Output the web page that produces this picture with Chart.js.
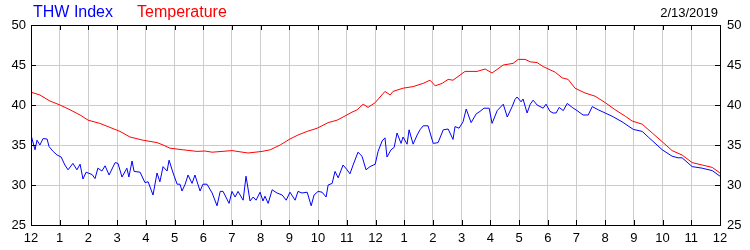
<!DOCTYPE html>
<html>
<head>
<meta charset="utf-8">
<script src="https://cdn.jsdelivr.net/npm/chart.js@4/dist/chart.umd.min.js"></script>
<style>
  html, body { margin: 0; padding: 0; background: #fff; }
  #wrap { position: relative; width: 750px; height: 250px; }
  .lbl { position: absolute; font-family: "Liberation Sans", Arial, sans-serif; white-space: nowrap; }
</style>
</head>
<body>
<div id="wrap">
  <canvas id="grafico" width="750" height="250"></canvas>
  <span class="lbl" style="left:33px; top:3px; font-size:16px; color:#0000ff;">THW Index</span>
  <span class="lbl" style="left:137px; top:3px; font-size:16px; color:#ff0000;">Temperature</span>
  <span class="lbl" style="right:32px; top:5px; font-size:13px; color:#000;">2/13/2019</span>
</div>
<script>
// Horas do dia (0 = meia-noite, 24 = meia-noite seguinte)
const horaTicks = [0, 1, 2, 3, 4, 5, 6, 7, 8, 9, 10, 11, 12, 13, 14, 15, 16, 17, 18, 19, 20, 21, 22, 23, 24];
const tempTicks = [25, 30, 35, 40, 45, 50];

// Temperature (vermelho)
const tempHoras = [0, 0.31, 0.66, 1.01, 1.36, 1.71, 1.99, 2.40, 2.75, 3.10, 3.45, 3.90, 4.39, 4.60, 4.84, 5.30, 5.78, 6.06, 6.31, 7.00,
  7.56, 8.05, 8.33, 8.68, 9.02, 9.30, 9.62, 9.97, 10.35, 10.66, 10.87, 11.18, 11.36, 11.57, 11.74, 11.99, 12.33, 12.51, 12.61, 12.96,
  13.31, 13.66, 13.90, 14.08, 14.32, 14.53, 14.70, 15.12, 15.54, 15.82, 16.06, 16.45, 16.79, 16.97, 17.21, 17.39, 17.63, 17.84, 18.08, 18.26,
  18.50, 18.71, 18.95, 19.30, 19.65, 20.00, 20.35, 20.70, 20.94, 21.29, 21.64, 21.99, 22.33, 22.68, 23.03, 23.38, 23.73, 24.00];
const tempValores = [41.6, 41.25, 40.5, 40.0, 39.4, 38.75, 38.1, 37.7, 37.2, 36.7, 36.0, 35.6, 35.3, 35.0, 34.6, 34.4, 34.2, 34.25, 34.1, 34.3,
  34.0, 34.2, 34.4, 35.0, 35.75, 36.25, 36.7, 37.1, 37.8, 38.1, 38.5, 39.1, 39.4, 40.1, 39.7, 40.3, 41.7, 41.25, 41.7, 42.1,
  42.3, 42.7, 43.1, 42.4, 42.7, 43.2, 43.1, 44.2, 44.2, 44.5, 44.0, 45.0, 45.2, 45.7, 45.7, 45.4, 45.3, 44.8, 44.4, 44.1,
  43.4, 43.2, 42.1, 41.5, 41.1, 40.3, 39.4, 38.6, 38.0, 37.6, 36.5, 35.4, 34.3, 33.75, 32.8, 32.5, 32.2, 31.5];

// THW Index (azul)
const thwHoras = [0, 0.14, 0.21, 0.31, 0.42, 0.56, 0.63, 0.77, 0.91, 1.05, 1.18, 1.29, 1.46, 1.60, 1.71, 1.81, 1.92, 2.13, 2.23, 2.33,
  2.47, 2.58, 2.72, 2.93, 3.03, 3.17, 3.34, 3.41, 3.52, 3.59, 3.80, 3.97, 4.08, 4.25, 4.39, 4.49, 4.60, 4.74, 4.81, 4.95,
  5.09, 5.19, 5.26, 5.37, 5.47, 5.61, 5.71, 5.89, 5.99, 6.13, 6.31, 6.48, 6.59, 6.69, 6.90, 7.00, 7.11, 7.21, 7.39, 7.49,
  7.63, 7.74, 7.84, 7.98, 8.08, 8.15, 8.26, 8.40, 8.57, 8.75, 8.89, 9.02, 9.20, 9.30, 9.44, 9.62, 9.76, 9.86, 10.00, 10.14,
  10.28, 10.35, 10.49, 10.59, 10.70, 10.87, 11.01, 11.11, 11.22, 11.39, 11.53, 11.67, 11.81, 11.99, 12.09, 12.23, 12.33, 12.40, 12.54, 12.65,
  12.75, 12.89, 12.96, 13.10, 13.17, 13.31, 13.45, 13.55, 13.66, 13.83, 14.01, 14.18, 14.36, 14.53, 14.70, 14.77, 14.91, 15.05, 15.16, 15.33,
  15.51, 15.64, 15.78, 15.96, 16.06, 16.24, 16.45, 16.59, 16.76, 16.86, 16.93, 17.07, 17.14, 17.28, 17.39, 17.49, 17.63, 17.84, 17.94, 18.08,
  18.19, 18.29, 18.40, 18.54, 18.68, 18.85, 19.02, 19.23, 19.41, 19.55, 19.76, 20.00, 20.24, 20.59, 20.98, 21.29, 21.50, 21.99, 22.33, 22.54,
  22.68, 23.03, 23.38, 23.73, 24.00];
const thwValores = [36.25, 34.4, 35.6, 35.0, 35.8, 35.75, 34.8, 34.2, 33.75, 33.5, 32.5, 31.9, 32.7, 31.9, 32.6, 30.75, 31.6, 31.3, 30.8, 32.1,
  31.75, 32.4, 31.25, 32.8, 32.7, 31.0, 32.1, 31.0, 33.0, 31.7, 31.6, 30.3, 30.4, 28.75, 31.5, 30.4, 32.3, 31.75, 33.1, 31.5,
  30.1, 30.1, 29.25, 30.1, 31.25, 30.2, 31.25, 29.25, 30.1, 30.1, 29.0, 27.4, 29.2, 29.2, 27.7, 29.2, 28.5, 29.2, 28.1, 31.1,
  28.0, 28.5, 28.1, 29.1, 28.0, 28.6, 27.7, 29.4, 29.0, 28.75, 28.1, 29.1, 28.1, 29.2, 29.0, 29.1, 27.4, 28.75, 29.2, 29.1,
  28.5, 30.0, 30.2, 31.7, 30.9, 32.5, 31.9, 31.4, 32.5, 34.1, 33.6, 31.9, 32.3, 32.6, 34.2, 35.5, 35.9, 33.5, 34.4, 34.7,
  36.5, 35.2, 36.0, 35.1, 36.9, 35.1, 36.25, 36.9, 37.4, 37.4, 35.2, 35.3, 36.9, 37.0, 35.7, 37.3, 37.1, 37.9, 39.5, 37.8,
  38.9, 39.2, 39.6, 39.6, 37.7, 39.3, 40.1, 38.5, 39.8, 40.7, 41.0, 40.4, 40.75, 39.0, 40.1, 40.6, 40.0, 39.6, 40.1, 39.2,
  39.0, 39.0, 39.7, 39.3, 40.2, 39.7, 39.3, 38.75, 38.75, 39.8, 39.4, 39.0, 38.6, 37.9, 36.95, 36.7, 36.0, 34.4, 33.6, 33.4,
  33.4, 32.3, 32.1, 31.8, 31.1];

function montarPontos(horas, valores) {
    return horas.map((h, i) => ({ x: h, y: valores[i] }));
}

// Moldura preta com marcas de escala para dentro
const molduraPlugin = {
    id: 'moldura',
    afterDraw(chart) {
        const { ctx, chartArea: a, scales } = chart;
        ctx.save();
        ctx.strokeStyle = '#000';
        ctx.lineWidth = 1;
        ctx.beginPath();
        horaTicks.forEach(h => {
            const x = Math.round(scales.x.getPixelForValue(h)) + 0.5;
            ctx.moveTo(x, a.top); ctx.lineTo(x, a.top + 5);
            ctx.moveTo(x, a.bottom); ctx.lineTo(x, a.bottom - 5);
        });
        tempTicks.forEach(t => {
            const y = Math.round(scales.y.getPixelForValue(t)) + 0.5;
            ctx.moveTo(a.left, y); ctx.lineTo(a.left + 5, y);
            ctx.moveTo(a.right, y); ctx.lineTo(a.right - 5, y);
        });
        ctx.stroke();
        ctx.strokeRect(Math.round(a.left) + 0.5, Math.round(a.top) + 0.5,
            Math.round(a.right - a.left), Math.round(a.bottom - a.top));
        ctx.restore();
    }
};

const fonte = { family: '"Liberation Sans", Arial, sans-serif', size: 13 };

const eixoY = (posicao, largura, pad) => ({
    type: 'linear',
    position: posicao,
    min: 25,
    max: 50,
    afterFit(s) { s.width = largura; },
    afterBuildTicks(s) { s.ticks = tempTicks.map(v => ({ value: v })); },
    ticks: { color: '#000', font: fonte, padding: pad },
    grid: { color: '#cccccc', drawTicks: false, drawOnChartArea: posicao === 'left' },
    border: { display: false }
});

new Chart(document.getElementById('grafico'), {
    type: 'line',
    data: {
        datasets: [
            {
                label: 'Temperature',
                data: montarPontos(tempHoras, tempValores),
                borderColor: '#ff0000',
                borderWidth: 1,
                pointRadius: 0,
                tension: 0,
                yAxisID: 'y'
            },
            {
                label: 'THW Index',
                data: montarPontos(thwHoras, thwValores),
                borderColor: '#0000ff',
                borderWidth: 1,
                pointRadius: 0,
                tension: 0,
                yAxisID: 'y'
            }
        ]
    },
    options: {
        responsive: false,
        animation: false,
        layout: { padding: { top: 25, left: 0, right: 0, bottom: 0 } },
        plugins: { legend: { display: false }, tooltip: { enabled: false } },
        scales: {
            x: {
                type: 'linear',
                min: 0,
                max: 24,
                afterFit(s) { s.height = 25; },
                afterBuildTicks(s) { s.ticks = horaTicks.map(v => ({ value: v })); },
                ticks: {
                    color: '#000',
                    font: fonte,
                    padding: 6,
                    autoSkip: false,
                    maxRotation: 0,
                    callback: v => (v % 12 === 0 ? 12 : v % 12)
                },
                grid: { color: '#cccccc', drawTicks: false },
                border: { display: false }
            },
            y: eixoY('left', 31, 5),
            y2: eixoY('right', 30, 7)
        }
    },
    plugins: [molduraPlugin]
});
</script>
</body>
</html>
